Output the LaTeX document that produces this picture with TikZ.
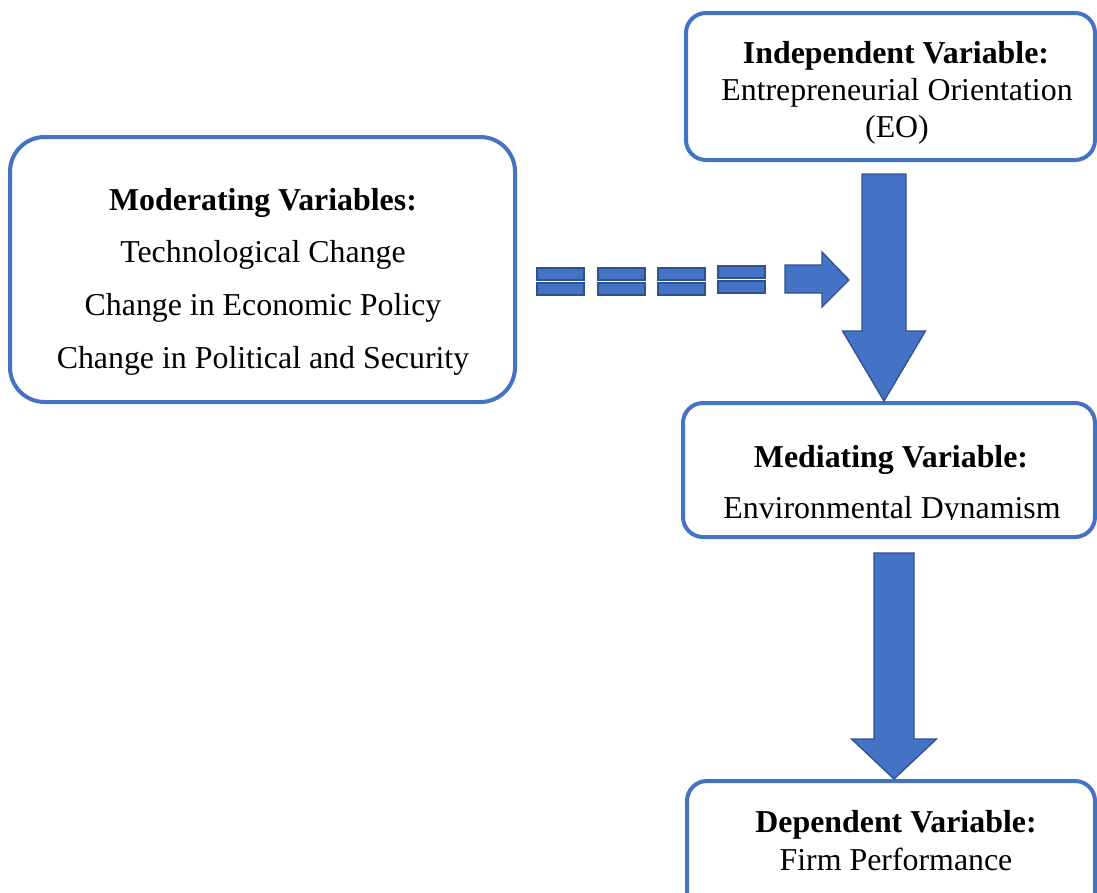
\documentclass[tikz,border=0pt]{standalone}
\usepackage{fontspec}
\setmainfont{Liberation Serif}
\usetikzlibrary{calc}

\definecolor{blau}{RGB}{68,114,196}
\definecolor{dunkelblau}{RGB}{47,82,143}

\begin{document}
\begin{tikzpicture}[x=0.75pt,y=-0.75pt,
	kasten/.style={draw=blau,line width=3pt,rounded corners=15pt,fill=white},
	schrift/.style={anchor=base,inner sep=0pt,font=\fontsize{23.9}{28}\selectfont},
	pfeil/.style={fill=blau,draw=dunkelblau,line width=1pt}]

\def\blockpfeil#1#2#3#4#5{
	\draw[pfeil] ($(#1)+(-#3,0)$) -- ($(#1)+(#3,0)$) -- ($(#2)+(#3,-#5)$)
		-- ($(#2)+(#4,-#5)$) -- (#2) -- ($(#2)+(-#4,-#5)$) -- ($(#2)+(-#3,-#5)$) -- cycle;
}

\path[use as bounding box,clip] (0,0) rectangle (1097,893);

% Kaesten
\node[kasten,minimum width=409*0.75pt,minimum height=147*0.75pt] (unabh) at (890.5,86.5) {};
\node[kasten,minimum width=412*0.75pt,minimum height=134*0.75pt] (mittel) at (889,470) {};
\node[kasten,minimum width=408*0.75pt,minimum height=149*0.75pt] (abh) at (891,855.5) {};
\node[kasten,rounded corners=26pt,minimum width=505*0.75pt,minimum height=265*0.75pt] (mod) at (262.5,269.5) {};

% Texte
\node[schrift] (unabhtitel) at (896,63) {\textbf{Independent Variable:}};
\node[schrift] (unabhtext1) at (897,100) {Entrepreneurial Orientation};
\node[schrift] (unabhtext2) at (897,137) {(EO)};

\node[schrift] (mitteltitel) at (891,467) {\textbf{Mediating Variable:}};
\begin{scope}
	\clip (683,420) rectangle (1097,519);
	\node[schrift] (mitteltext) at (892,518) {Environmental Dynamism};
\end{scope}

\node[schrift] (abhtitel) at (896,832) {\textbf{Dependent Variable:}};
\node[schrift] (abhtext) at (896,870) {Firm Performance};

\node[schrift] (modtitel) at (263,210) {\textbf{Moderating Variables:}};
\node[schrift] (modtext1) at (263,262) {Technological Change};
\node[schrift] (modtext2) at (263,315) {Change in Economic Policy};
\node[schrift] (modtext3) at (263,368) {Change in Political and Security};

% Pfeile
\coordinate (p1a) at (884,174);
\coordinate (p1b) at (p1a |- mittel.north);
\blockpfeil{p1a}{p1b}{22}{41.5}{70}

\coordinate (p2a) at (894,553);
\coordinate (p2b) at (p2a |- abh.north);
\blockpfeil{p2a}{p2b}{20}{42.5}{40}

% gestrichelter Pfeil
\foreach \x/\dy in {537/0,598/0,658/0,718/-2}{
	\draw[pfeil] (\x,{268+\dy}) rectangle +(47,12);
	\draw[pfeil] (\x,{283+\dy}) rectangle +(47,12);
}
\coordinate (modziel) at (849,280);
\draw[pfeil] (modziel) -- ++(-27,-28) -- ++(0,13) -- ++(-37,0) -- ++(0,28)
	-- ++(37,0) -- ++(0,14) -- cycle;

\end{tikzpicture}
\end{document}
